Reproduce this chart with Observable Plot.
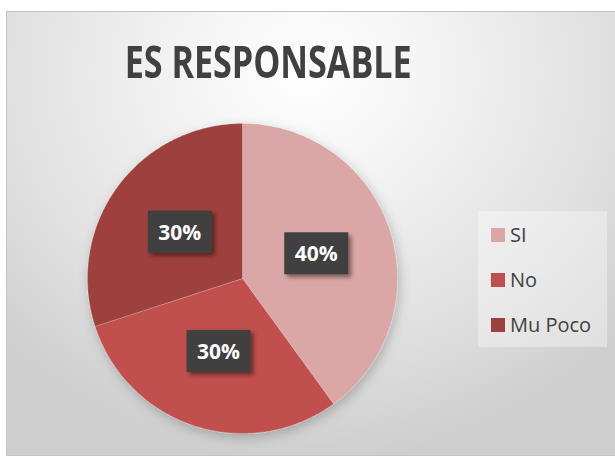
<!DOCTYPE html>
<html>
<head>
<meta charset="utf-8">
<script src="https://cdn.jsdelivr.net/npm/d3@7"></script>
<script src="https://cdn.jsdelivr.net/npm/@observablehq/plot@0.6"></script>
<style>
  html, body { margin: 0; padding: 0; background: #fff; }
  #wrap { position: relative; width: 615px; height: 456px; overflow: hidden; font-family: "Open Sans", sans-serif; }
  #frame { position: absolute; left: 6px; top: 11px; width: 620px; height: 443px;
    border: 1px solid #c4c4c4;
    background: radial-gradient(ellipse 430px 390px at 300px 60px, #ffffff 0%, #f3f3f3 30%, #e0e0e0 70%, #cecece 100%); }
  #title { position: absolute; left: 0; top: 39px; width: 537px; text-align: center;
    font-weight: 700; font-size: 44px; color: #404040; line-height: 1; white-space: nowrap; }
  #title span { display: inline-block; transform-origin: center; }
  #plot { position: absolute; left: 0; top: 0; }
  #legend { position: absolute; left: 478px; top: 211px; width: 129px; height: 136px;
    background: rgba(255,255,255,0.35); }
  .item { position: absolute; left: 13px; display: flex; align-items: center; font-size: 20px; color: #404040; }
  .sw { width: 14px; height: 14px; margin-right: 5px; }
</style>
</head>
<body>
<div id="wrap">
  <div id="frame"></div>
  <div id="title"><span>ES RESPONSABLE</span></div>
  <div id="plot"></div>
  <div id="legend"></div>
</div>
<script>
const categories = ["SI", "No", "Mu Poco"];
const values = [40, 30, 30];
const labels = ["40%", "30%", "30%"];
const colors = ["#DAA7A6", "#C0504D", "#9E413E"];

// pie geometry from data
const arcs = d3.pie().sort(null).startAngle(0).endAngle(2 * Math.PI)(values);
const slicePts = [];
arcs.forEach((a, i) => {
  const cat = categories[i];
  slicePts.push({cat, x: 0, y: 0});
  const n = 120;
  for (let k = 0; k <= n; k++) {
    const t = a.startAngle + (a.endAngle - a.startAngle) * k / n;
    slicePts.push({cat, x: Math.sin(t), y: Math.cos(t)});
  }
  slicePts.push({cat, x: 0, y: 0});
});
const labelPts = arcs.map((a, i) => {
  const m = (a.startAngle + a.endAngle) / 2;
  return {cat: categories[i], label: labels[i], x: 0.5 * Math.sin(m), y: 0.5 * Math.cos(m)};
});

const plot = Plot.plot({
  width: 615,
  height: 456,
  marginLeft: 87,
  marginRight: 218,
  marginTop: 123,
  marginBottom: 23,
  x: {domain: [-1, 1], axis: null},
  y: {domain: [-1, 1], axis: null},
  color: {domain: categories, range: colors},
  style: {background: "transparent", overflow: "visible"},
  marks: [
    Plot.line(slicePts, {x: "x", y: "y", z: "cat", fill: "cat", stroke: "#ffffff", strokeOpacity: 0.25, strokeWidth: 0.8, curve: "linear", className: "slices"}),
    Plot.text(labelPts, {x: "x", y: "y", text: "label", fill: "white", fontSize: 21, fontWeight: 700, fontFamily: "Open Sans", className: "plabels"})
  ]
});
document.getElementById("plot").appendChild(plot);

// shadow filters
const svg = d3.select(plot);
const defs = svg.insert("defs", ":first-child");
const f1 = defs.append("filter").attr("id", "pieShadow").attr("x", "-20%").attr("y", "-20%").attr("width", "140%").attr("height", "140%");
f1.append("feDropShadow").attr("dx", 2).attr("dy", 4).attr("stdDeviation", 6).attr("flood-color", "#000").attr("flood-opacity", 0.22);
const f2 = defs.append("filter").attr("id", "boxShadow").attr("x", "-30%").attr("y", "-30%").attr("width", "160%").attr("height", "160%");
f2.append("feDropShadow").attr("dx", 3).attr("dy", 3).attr("stdDeviation", 2).attr("flood-color", "#000").attr("flood-opacity", 0.45);
svg.select("g.slices").attr("filter", "url(#pieShadow)");

// label background boxes (same transform as each text)
svg.select("g.plabels").selectAll("text").each(function() {
  const t = this;
  const bb = t.getBBox();
  const cx = bb.x + bb.width / 2, cy = bb.y + bb.height / 2;
  d3.select(t.parentNode).insert("rect", () => t)
    .attr("transform", t.getAttribute("transform"))
    .attr("x", (+t.getAttribute("x") || 0) + cx - 32)
    .attr("y", (+t.getAttribute("y") || 0) + cy - 21)
    .attr("width", 64).attr("height", 42)
    .attr("fill", "#404040").attr("filter", "url(#boxShadow)");
});

// title fit
const ts = document.querySelector("#title span");
const w = ts.getBoundingClientRect().width;
ts.style.transform = `scaleX(${287 / w})`;

// legend
const leg = document.getElementById("legend");
const tops = [10, 55, 100];
categories.forEach((c, i) => {
  const d = document.createElement("div");
  d.className = "item";
  d.style.top = tops[i] + "px";
  d.innerHTML = `<div class="sw" style="background:${colors[i]}"></div><span>${c}</span>`;
  leg.appendChild(d);
});
</script>
</body>
</html>
